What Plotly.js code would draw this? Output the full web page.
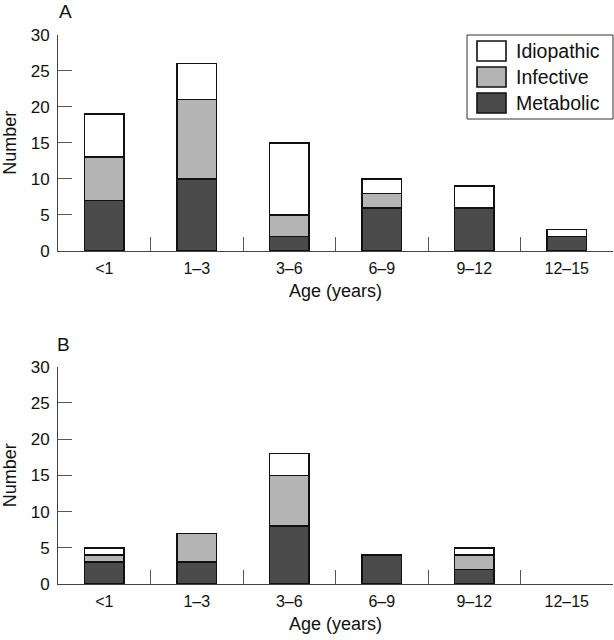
<!DOCTYPE html>
<html>
<head>
<meta charset="utf-8">
<script src="https://cdn.plot.ly/plotly-3.0.1.min.js"></script>
<style>html,body{margin:0;padding:0;background:#fff;}#chart{width:614px;height:640px;}</style>
</head>
<body>
<div id="chart"></div>
<script>
// ---- data ----
const categories = ["<1", "1–3", "3–6", "6–9", "9–12", "12–15"];
const seriesNames = ["Metabolic", "Infective", "Idiopathic"];
const panelA_metabolic  = [7, 10, 2, 6, 6, 2];
const panelA_infective  = [6, 11, 3, 2, 0, 0];
const panelA_idiopathic = [6, 5, 10, 2, 3, 1];
const panelB_metabolic  = [3, 3, 8, 4, 2, 0];
const panelB_infective  = [1, 4, 7, 0, 2, 0];
const panelB_idiopathic = [1, 0, 3, 0, 1, 0];
const yTicks = [0, 5, 10, 15, 20, 25, 30];
const panelLabels = ["A", "B"];
const xTitle = "Age (years)";
const yTitle = "Number";

// ---- styles ----
const colors = {Metabolic: "#4b4b4b", Infective: "#b4b4b4", Idiopathic: "#ffffff"};
const FONT = "Liberation Sans, Arial, sans-serif";
const barWidth = 0.43;

function z(v){ return v.map(x => x === 0 ? null : x); }

const traces = [];
const panels = [
  {xa: "x", ya: "y", data: [panelA_metabolic, panelA_infective, panelA_idiopathic]},
  {xa: "x2", ya: "y2", data: [panelB_metabolic, panelB_infective, panelB_idiopathic]}
];
panels.forEach(p => {
  seriesNames.forEach((name, i) => {
    traces.push({
      type: "bar", x: categories, y: z(p.data[i]), name: name,
      xaxis: p.xa, yaxis: p.ya, width: barWidth, showlegend: false,
      marker: {color: colors[name], line: {color: "#111", width: 1.6}},
      hoverinfo: "x+y+name"
    });
  });
});

function xaxis(anchor){
  return {
    anchor: anchor, domain: [0, 1], type: "category", range: [-0.5, 5.5],
    tickson: "boundaries", ticks: "inside", ticklen: 14, tickwidth: 1, tickcolor: "#555",
    showline: true, linecolor: "#444", linewidth: 1, showgrid: false, zeroline: false,
    tickfont: {family: FONT, size: 16, color: "#111"}, ticklabelstandoff: 3,
    title: {text: xTitle, font: {family: FONT, size: 18, color: "#111"}, standoff: 8},
    fixedrange: true
  };
}
function yaxis(anchor, domain){
  return {
    anchor: anchor, domain: domain, range: [0, 30], tickvals: yTicks,
    ticks: "inside", ticklen: 14, tickwidth: 1, tickcolor: "#555",
    showline: true, linecolor: "#444", linewidth: 1, showgrid: false, zeroline: false,
    tickfont: {family: FONT, size: 17, color: "#111"}, ticklabelstandoff: 4,
    title: {text: yTitle, font: {family: FONT, size: 18, color: "#111"}, standoff: 10},
    fixedrange: true
  };
}

// custom legend (paper coords)
const shapes = [];
const annotations = [];
const legendOrder = ["Idiopathic", "Infective", "Metabolic"];
const W = 555, H = 550, L = 58, T = 34;
function px(xp){ return (xp - L) / W; }
function py(yp){ return 1 - (yp - T) / H; }
shapes.push({type: "rect", xref: "paper", yref: "paper",
  x0: px(467), x1: px(613), y0: py(119), y1: py(35),
  line: {color: "#333", width: 1}, fillcolor: "#fff"});
legendOrder.forEach((name, i) => {
  const yc = 51 + i * 26;
  shapes.push({type: "rect", xref: "paper", yref: "paper",
    x0: px(477), x1: px(506), y0: py(yc + 10), y1: py(yc - 10),
    line: {color: "#111", width: 1.6}, fillcolor: colors[name]});
  annotations.push({xref: "paper", yref: "paper", x: px(514), y: py(yc),
    xanchor: "left", yanchor: "middle", showarrow: false, text: name,
    font: {family: FONT, size: 19.5, color: "#111"}});
});
annotations.push({xref: "paper", yref: "paper", x: px(65), y: py(11), xanchor: "center", yanchor: "middle",
  showarrow: false, text: panelLabels[0], font: {family: FONT, size: 19, color: "#111"}});
annotations.push({xref: "paper", yref: "paper", x: px(63), y: py(344), xanchor: "center", yanchor: "middle",
  showarrow: false, text: panelLabels[1], font: {family: FONT, size: 19, color: "#111"}});

const layout = {
  width: 614, height: 640,
  margin: {l: L, r: 614 - L - W, t: T, b: 640 - T - H, pad: 0},
  paper_bgcolor: "#fff", plot_bgcolor: "#fff",
  barmode: "stack", bargap: 0.57,
  xaxis: xaxis("y"), yaxis: yaxis("x", [py(251), py(34.7)]),
  xaxis2: xaxis("y2"), yaxis2: yaxis("x2", [0, py(366.7)]),
  shapes: shapes, annotations: annotations, showlegend: false
};

Plotly.newPlot("chart", traces, layout, {displayModeBar: false, staticPlot: true});
</script>
</body>
</html>
